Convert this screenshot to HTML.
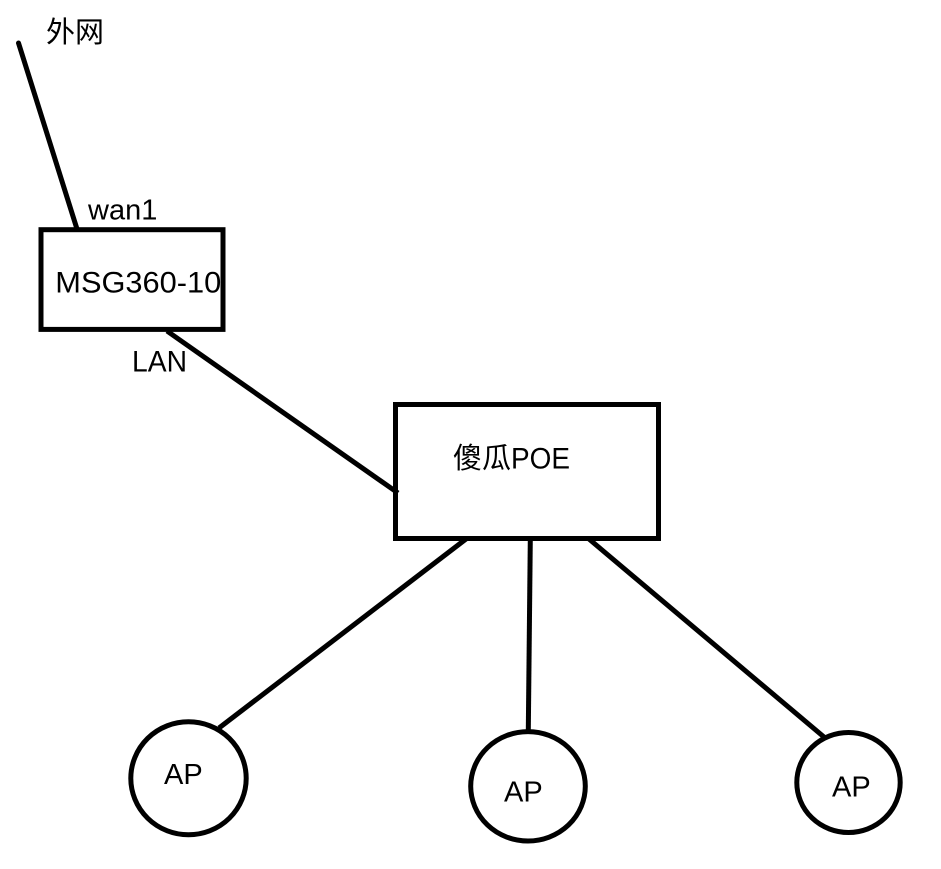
<!DOCTYPE html>
<html>
<head>
<meta charset="utf-8">
<style>
html,body{margin:0;padding:0;background:#fff;}
svg{display:block;}
text{font-family:"Liberation Sans","Noto Sans CJK SC",sans-serif;font-size:29px;fill:#000;}
.w{font-size:30px;}
</style>
</head>
<body>
<svg width="941" height="869" viewBox="0 0 941 869" xmlns="http://www.w3.org/2000/svg">
<g stroke="#000" stroke-width="5" fill="none">
<line x1="18.500" y1="43" x2="77" y2="229" stroke-linecap="round"/>
<rect x="41" y="229.700" width="182" height="99.700"/>
<line x1="167" y1="331" x2="398" y2="493"/>
<rect x="395.500" y="404.500" width="263" height="134"/>
<line x1="466" y1="539" x2="219" y2="728"/>
<line x1="530.300" y1="539" x2="528.300" y2="731"/>
<line x1="589" y1="539" x2="824" y2="737"/>
<ellipse cx="188.500" cy="778.300" rx="57.700" ry="56.500"/>
<ellipse cx="528" cy="786.300" rx="57.300" ry="54.700"/>
<ellipse cx="848.500" cy="782.500" rx="51.700" ry="50"/>
</g>
<text x="46" y="42">外网</text>
<text x="88" y="219.500">wan1</text>
<text class="w" x="55.300" y="292.700" textLength="166" lengthAdjust="spacingAndGlyphs">MSG360-10</text>
<text class="w" x="132" y="371.700" textLength="55" lengthAdjust="spacingAndGlyphs">LAN</text>
<text x="453" y="468">傻瓜</text>
<text class="w" x="511" y="468.700" textLength="59" lengthAdjust="spacingAndGlyphs">POE</text>
<text x="164" y="784">AP</text>
<text x="504" y="801.500">AP</text>
<text x="832" y="796.700">AP</text>
</svg>
</body>
</html>
